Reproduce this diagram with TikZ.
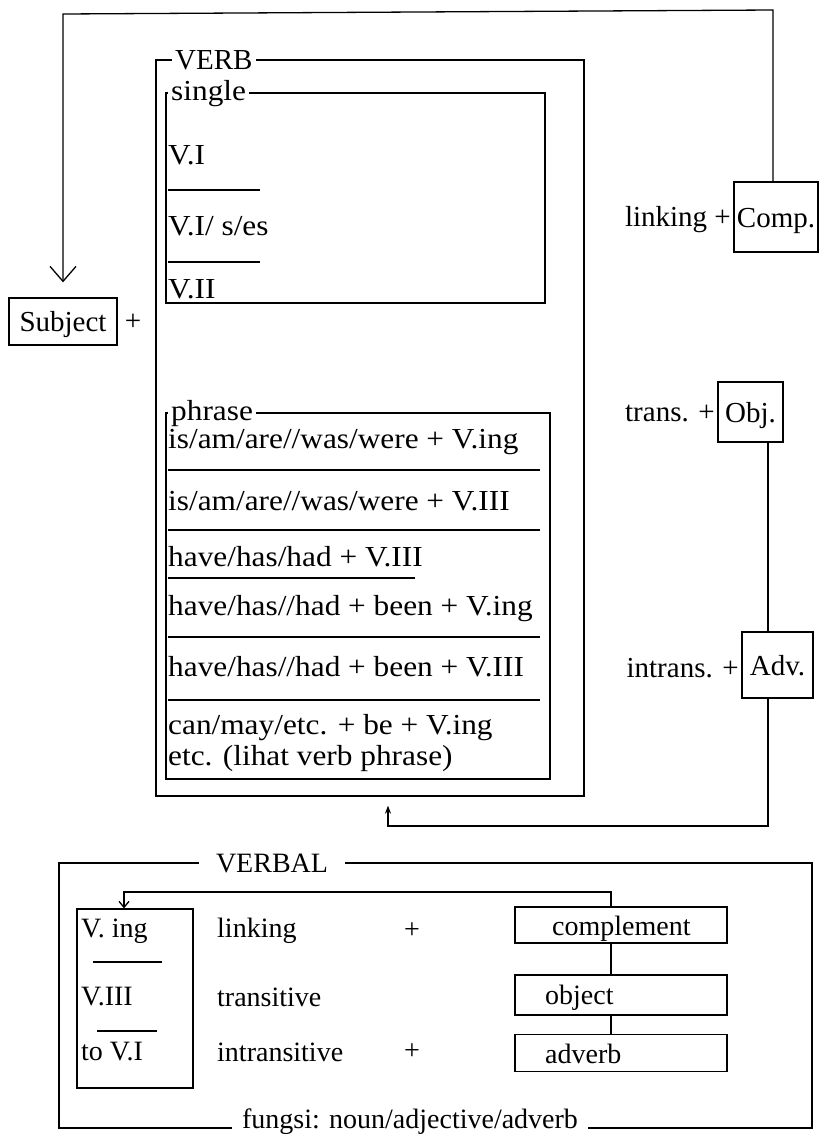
\documentclass[tikz,border=0pt]{standalone}
\usepackage{fontspec}
\setmainfont{Liberation Serif}
\newfontfamily\vfont[FakeStretch=1.08]{Liberation Serif}
\usetikzlibrary{arrows.meta}
\begin{document}
\begin{tikzpicture}[x=1pt,y=-1pt,
  ln/.style={line width=1.3pt},
  box/.style={draw,line width=1.3pt,inner sep=0pt},
  txt/.style={font=\vfont\fontsize{29}{30}\selectfont,inner sep=0pt},
  side/.style={font=\fontsize{29}{32}\selectfont,inner sep=0pt},
  capbox/.style={box,side,text height=22pt,text depth=2pt},
  lo/.style={font=\fontsize{28}{32}\selectfont,inner sep=0pt},
  lab/.style={fill=white,inner xsep=3pt,inner ysep=1pt},
  barb/.style={-{Straight Barb[length=15pt,width=26pt,line width=1.3pt]}},
  sbarb/.style={-{Straight Barb[length=6pt,width=10pt,line width=1.3pt]}},
  tip/.style={-{Stealth[length=8pt,width=6pt]}},
  wbox/.style={box,minimum width=212pt},
]
\useasboundingbox (0,0) rectangle (819,1135);
% helper coordinates
\coordinate (tr) at (773,10);
\coordinate (tl) at (63,14);
\coordinate (x768) at (768,0);
\coordinate (x388) at (388,0);
\coordinate (y826) at (0,826);
\coordinate (x611) at (611,0);
\coordinate (x124) at (124,0);
\coordinate (y892) at (0,892);

% VERB container
\node[box,minimum width=428pt,minimum height=736pt] (verb) at (370,428) {};
\node[side,lab,anchor=west] (verblab) at (172,60) {VERB};
% single box
\node[box,minimum width=379pt,minimum height=210pt] (single) at (355.5,198) {};
\node[txt,lab,anchor=base west] (singlelab) at (168,100) {single};
\node[txt,anchor=west] (s1) at (168,155) {V.I};
\draw[ln] (168,190) -- (260,190);
\node[txt,anchor=west] (s2) at (168,226) {V.I/ s/es};
\draw[ln] (168,262) -- (260,262);
\node[txt,anchor=west] (s3) at (168,289) {V.II};
% phrase box
\node[box,minimum width=384pt,minimum height=366pt] (phrase) at (358,596) {};
\node[txt,lab,anchor=base west] (phraselab) at (168,420) {phrase};
\node[txt,anchor=west] (p1) at (168,442) {is/am/are//was/were + V.ing};
\draw[ln] (168,470) -- (540,470);
\node[txt,anchor=west] (p2) at (168,501) {is/am/are//was/were + V.III};
\draw[ln] (168,530) -- (540,530);
\node[txt,anchor=west] (p3) at (168,557) {have/has/had + V.III};
\draw[ln] (168,578) -- (415,578);
\node[txt,anchor=west] (p4) at (168,609) {have/has//had + been + V.ing};
\draw[ln] (168,637) -- (540,637);
\node[txt,anchor=west] (p5) at (168,667) {have/has//had + been + V.III};
\draw[ln] (168,700) -- (540,700);
\node[txt,anchor=west] (p6) at (168,728) {can/may/etc. + be + V.ing};
\node[txt,anchor=west] (p7) at (168,759) {etc. (lihat verb phrase)};

% Subject
\node[capbox,minimum width=108pt,minimum height=47pt] (subject) at (63,321.5) {Subject};
\node[side] (splus) at (133,322) {+};

% right column
\node[capbox,minimum width=84pt,minimum height=70pt] (comp) at (776,217) {Comp.};
\node[side,anchor=east] (linking) at (731,220) {linking +};
\node[capbox,minimum width=65pt,minimum height=60pt] (obj) at (750.5,412) {Obj.};
\node[side,anchor=east] (trans) at (715,414) {trans. +};
\node[capbox,minimum width=71pt,minimum height=66pt] (adv) at (777.5,665) {Adv.};
\node[side,anchor=east] (intrans) at (739,668) {intrans. +};

% connectors upper part
\draw[ln,barb] (comp.north -| tr) -- (tr) -- (tl) -- ([yshift=15pt]subject.north);
\draw[ln] (obj.south -| x768) -- (adv.north -| x768);
\draw[ln,tip,shorten >=9pt] (adv.south -| x768) -- (x768 |- y826) -- (x388 |- y826) -- (verb.south -| x388);

% VERBAL container
\node[box,minimum width=753pt,minimum height=265pt] (verbal) at (435.5,995.5) {};
\node[lo,fill=white,inner xsep=17pt,inner ysep=2pt] (verballab) at (272,863) {VERBAL};
\node[lo,fill=white,inner xsep=10pt,inner ysep=2pt,anchor=base] (fungsi) at (410,1128) {fungsi: noun/adjective/adverb};

\node[box,minimum width=116pt,minimum height=179pt] (vb) at (135,998.5) {};
\node[lo,anchor=west] (v1) at (81,931) {V. ing};
\draw[ln] (93,962) -- (162,962);
\node[lo,anchor=west] (v2) at (81,997) {V.III};
\draw[ln] (97,1031) -- (157,1031);
\node[lo,anchor=west] (v3) at (81,1052) {to V.I};

\node[lo,anchor=west] (l1) at (217,931) {linking};
\node[lo,anchor=west] (l2) at (217,997) {transitive};
\node[lo,anchor=west] (l3) at (217,1052) {intransitive};
\node[lo] (plus1) at (412,931) {+};
\node[lo] (plus2) at (412,1052) {+};

\node[wbox,minimum height=36pt] (cmp) at (621,925) {};
\node[lo,anchor=west] (cmpt) at (552,929) {complement};
\node[wbox,minimum height=40pt] (objb) at (621,995) {};
\node[lo,anchor=west] (objt) at (545,998) {object};
\node[wbox,minimum height=37pt] (advb) at (621,1053) {};
\node[lo,anchor=west] (advt) at (545,1054) {adverb};

\draw[ln] (cmp.south -| x611) -- (objb.north -| x611);
\draw[ln] (objb.south -| x611) -- (advb.north -| x611);
\draw[ln,sbarb] (cmp.north -| x611) |- (x124 |- y892) -- (vb.north -| x124);
\end{tikzpicture}
\end{document}
